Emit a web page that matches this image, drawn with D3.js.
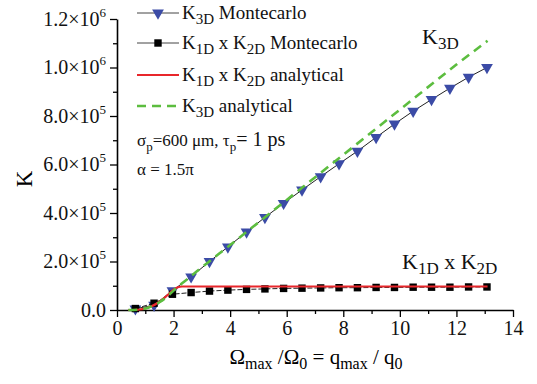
<!DOCTYPE html>
<html>
<head>
<meta charset="utf-8">
<script src="https://cdn.jsdelivr.net/npm/d3@7"></script>
<style>
  body { margin: 0; background: #fff; }
</style>
</head>
<body>
<svg id="chart" width="537" height="384"></svg>
<script>
// Montecarlo sample positions (Omega_max / Omega_0)
var mcX = [0.65, 1.31, 1.96, 2.62, 3.27, 3.92, 4.58, 5.23, 5.89, 6.54, 7.2, 7.85, 8.5, 9.16, 9.81, 10.47, 11.12, 11.77, 12.43, 13.08];
// K3D Montecarlo (triangles)
var k3dMC = [5e3, 2e4, 8e4, 1.37e5, 2.0e5, 2.6e5, 3.22e5, 3.82e5, 4.4e5, 4.95e5, 5.5e5, 6.03e5, 6.55e5, 7.12e5, 7.67e5, 8.2e5, 8.68e5, 9.15e5, 9.6e5, 1.0e6];
// K1D x K2D Montecarlo (squares)
var k12MC = [6e3, 2.8e4, 6.5e4, 7.2e4, 7.8e4, 8.2e4, 8.5e4, 8.7e4, 8.9e4, 9.0e4, 9.1e4, 9.2e4, 9.2e4, 9.3e4, 9.3e4, 9.4e4, 9.4e4, 9.4e4, 9.5e4, 9.5e4];
// analytical curves
var anaX3 = [0.4, 0.8, 1.0, 1.2, 1.5, 1.8, 2.0, 2.3, 2.6, 3.0, 4.0, 5.0, 6.0, 8.0, 10.0, 12.0, 13.1];
var k3dAna = [0, 2e3, 6e3, 1.4e4, 3.2e4, 5.8e4, 8e4, 1.1e5, 1.38e5, 1.76e5, 2.68e5, 3.61e5, 4.54e5, 6.4e5, 8.26e5, 1.012e6, 1.11e6];
var anaX12 = [0.4, 0.8, 1.0, 1.2, 1.5, 1.8, 2.0, 2.15, 2.3, 5.0, 10.0, 13.1];
var k12Ana = [0, 2e3, 6e3, 1.4e4, 3.4e4, 6.3e4, 8.4e4, 9.4e4, 9.7e4, 9.7e4, 9.7e4, 9.7e4];

var xTicks = [0, 2, 4, 6, 8, 10, 12, 14];
var yTicks = [0, 2e5, 4e5, 6e5, 8e5, 1e6, 1.2e6];

var FONT = "'Liberation Serif', 'Times New Roman', serif";

var svg = d3.select("#chart");

var x = d3.scaleLinear().domain([0, 14]).range([117, 513]);
var y = d3.scaleLinear().domain([0, 1.2e6]).range([310, 19]);

// minor ticks
svg.append("g")
  .attr("transform", "translate(0,310)")
  .call(d3.axisBottom(x).tickValues(d3.range(1, 14, 2)).tickSize(4).tickFormat(""))
  .call(function(g) { g.select(".domain").remove(); g.selectAll("line").attr("stroke-width", 1.3); });
svg.append("g")
  .attr("transform", "translate(117,0)")
  .call(d3.axisLeft(y).tickValues(d3.range(1e5, 1.2e6, 2e5)).tickSize(4).tickFormat(""))
  .call(function(g) { g.select(".domain").remove(); g.selectAll("line").attr("stroke-width", 1.3); });

// x axis
var gx = svg.append("g")
  .attr("transform", "translate(0,310)")
  .call(d3.axisBottom(x).tickValues(xTicks).tickSize(7).tickSizeOuter(0).tickPadding(4));
gx.select(".domain").attr("stroke-width", 1.6);
gx.selectAll("line").attr("stroke-width", 1.3);
gx.selectAll("text").style("font-family", FONT).style("font-size", "20px").attr("fill", "#111");

// y axis
var gy = svg.append("g")
  .attr("transform", "translate(117,0)")
  .call(d3.axisLeft(y).tickValues(yTicks).tickSize(7).tickSizeOuter(0).tickPadding(4));
gy.select(".domain").attr("stroke-width", 1.6);
gy.selectAll("line").attr("stroke-width", 1.3);
gy.selectAll(".tick text").each(function(d) {
  var t = d3.select(this).text("").style("font-family", FONT).style("font-size", "20px").attr("fill", "#111");
  if (d === 0) { t.text("0.0"); return; }
  var e = Math.floor(Math.log10(d));
  var m = d / Math.pow(10, e);
  t.append("tspan").text(m.toFixed(1) + "\u00d710");
  t.append("tspan").attr("dy", -9).style("font-size", "13px").text(e);
});

// axis titles
svg.append("text")
  .attr("transform", "translate(32,179) rotate(-90)")
  .attr("text-anchor", "middle")
  .style("font-family", FONT)
  .style("font-size", "23px")
  .text("K");

var xt = svg.append("text")
  .attr("x", 316).attr("y", 364)
  .attr("text-anchor", "middle")
  .style("font-family", FONT)
  .style("font-size", "21px");
xt.append("tspan").text("\u03a9");
xt.append("tspan").attr("dy", 5).style("font-size", "16px").text("max");
xt.append("tspan").attr("dy", -5).text(" /\u03a9");
xt.append("tspan").attr("dy", 5).style("font-size", "16px").text("0");
xt.append("tspan").attr("dy", -5).text(" = q");
xt.append("tspan").attr("dy", 5).style("font-size", "16px").text("max");
xt.append("tspan").attr("dy", -5).text(" / q");
xt.append("tspan").attr("dy", 5).style("font-size", "16px").text("0");

var line = d3.line().x(function(d) { return x(d[0]); }).y(function(d) { return y(d[1]); });
var tri = d3.symbol().type(d3.symbolTriangle).size(60);
var sq = d3.symbol().type(d3.symbolSquare).size(55);

// K3D Montecarlo
var k3dPts = d3.zip(mcX, k3dMC);
svg.append("path").attr("d", line(k3dPts)).attr("fill", "none").attr("stroke", "#222").attr("stroke-width", 1);
svg.selectAll(".tri").data(k3dPts).join("path")
  .attr("d", tri)
  .attr("transform", function(d) { return "translate(" + x(d[0]) + "," + y(d[1]) + ") rotate(180)"; })
  .attr("fill", "#3b4ba6");

// K1D x K2D Montecarlo
var k12Pts = d3.zip(mcX, k12MC);
svg.append("path").attr("d", line(k12Pts)).attr("fill", "none").attr("stroke", "#222").attr("stroke-width", 1).attr("stroke-dasharray", "5,2");
svg.selectAll(".sq").data(k12Pts).join("path")
  .attr("d", sq)
  .attr("transform", function(d) { return "translate(" + x(d[0]) + "," + y(d[1]) + ")"; })
  .attr("fill", "#000");

// analytical curves
var curve = d3.line().curve(d3.curveMonotoneX).x(function(d) { return x(d[0]); }).y(function(d) { return y(d[1]); });
svg.append("path").attr("d", curve(d3.zip(anaX12, k12Ana)))
  .attr("fill", "none").attr("stroke", "#e8262b").attr("stroke-width", 2.2);
svg.append("path").attr("d", curve(d3.zip(anaX3, k3dAna)))
  .attr("fill", "none").attr("stroke", "#5cbd3f").attr("stroke-width", 2.6).attr("stroke-dasharray", "9,6");

// rich text helper: parts are [text, isSubscript, optional size]
function richText(parent, xp, yp, size, parts) {
  var t = parent.append("text").attr("x", xp).attr("y", yp)
    .style("font-family", FONT).style("font-size", size + "px").attr("fill", "#111");
  var prev = 0;
  parts.forEach(function(p) {
    var dy = (p[1] ? 5 : 0) - (prev ? 5 : 0);
    var fs = p[2] || (p[1] ? Math.round(size * 0.78) : size);
    t.append("tspan").attr("dy", dy).style("font-size", fs + "px").text(p[0]);
    prev = p[1];
  });
  return t;
}

// legend
var legendRows = [
  { y: 13, kind: "tri", parts: [["K", 0], ["3D", 1], [" Montecarlo", 0]] },
  { y: 43, kind: "sq", parts: [["K", 0], ["1D", 1], [" x K", 0], ["2D", 1], [" Montecarlo", 0]] },
  { y: 75, kind: "red", parts: [["K", 0], ["1D", 1], [" x K", 0], ["2D", 1], [" analytical", 0]] },
  { y: 106, kind: "green", parts: [["K", 0], ["3D", 1], [" analytical", 0]] }
];
var lg = svg.append("g");
legendRows.forEach(function(r) {
  if (r.kind === "tri" || r.kind === "sq") {
    lg.append("line").attr("x1", 137).attr("x2", 179).attr("y1", r.y).attr("y2", r.y).attr("stroke", "#444").attr("stroke-width", 1);
    lg.append("path")
      .attr("d", r.kind === "tri" ? tri : sq)
      .attr("transform", "translate(158," + r.y + ")" + (r.kind === "tri" ? " rotate(180)" : ""))
      .attr("fill", r.kind === "tri" ? "#3b4ba6" : "#000");
  } else if (r.kind === "red") {
    lg.append("line").attr("x1", 137).attr("x2", 179).attr("y1", r.y).attr("y2", r.y).attr("stroke", "#e8262b").attr("stroke-width", 2.2);
  } else {
    lg.append("line").attr("x1", 137).attr("x2", 179).attr("y1", r.y).attr("y2", r.y).attr("stroke", "#5cbd3f").attr("stroke-width", 2.6).attr("stroke-dasharray", "9,6");
  }
  richText(lg, 182, r.y + 6, 19, r.parts);
});

// annotations
richText(svg, 137, 146, 17, [["\u03c3", 0], ["p", 1], ["=600 \u03bcm,  \u03c4", 0], ["p", 1], ["= 1 ps", 0, 20]]);
richText(svg, 137, 175, 17, [["\u03b1 = 1.5\u03c0", 0]]);
richText(svg, 422, 44, 22, [["K", 0], ["3D", 1]]);
richText(svg, 402, 269, 22, [["K", 0], ["1D", 1], [" x K", 0], ["2D", 1]]);
</script>
</body>
</html>
